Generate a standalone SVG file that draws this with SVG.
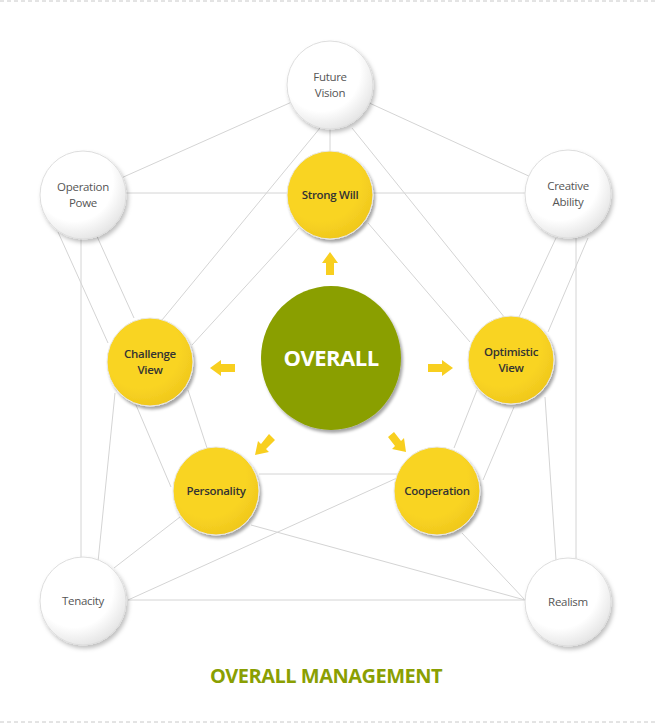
<svg xmlns="http://www.w3.org/2000/svg" width="655" height="724" viewBox="0 0 655 724">
<style>
.l{stroke:#d4d4d4;stroke-width:1;fill:none}
.t{font-family:"Open Sans","Liberation Sans",sans-serif;font-size:11.5px;text-anchor:middle;letter-spacing:-0.3px}
.w{fill:#555;font-weight:500}
.y{fill:#333;font-weight:600}
.ar{fill:#f8cf1f}
</style>
<defs>
<radialGradient id="gw" cx="0.4" cy="0.35" r="0.75"><stop offset="0.6" stop-color="#fff"/><stop offset="1" stop-color="#dcdcdc"/></radialGradient>
<radialGradient id="gy" cx="0.4" cy="0.35" r="0.75"><stop offset="0.6" stop-color="#f9d423"/><stop offset="1" stop-color="#ecc31a"/></radialGradient>
<filter id="sh" x="-20%" y="-20%" width="150%" height="150%"><feDropShadow dx="2" dy="3" stdDeviation="1.5" flood-color="#000" flood-opacity="0.35"/></filter>
<filter id="sh2" x="-20%" y="-20%" width="150%" height="150%"><feDropShadow dx="2" dy="3" stdDeviation="2" flood-color="#000" flood-opacity="0.25"/></filter>
</defs>
<line x1="0" y1="1" x2="655" y2="1" stroke="#c8c8c8" stroke-dasharray="4,3"/>
<line x1="0" y1="722" x2="655" y2="722" stroke="#c8c8c8" stroke-dasharray="4,3"/>
<g id="connectors">
<line class="l" x1="330" y1="85" x2="83" y2="195"/>
<line class="l" x1="330" y1="85" x2="568" y2="194"/>
<line class="l" x1="330" y1="85" x2="330" y2="195"/>
<line class="l" x1="320" y1="128" x2="162" y2="320"/>
<line class="l" x1="352" y1="128" x2="505" y2="318"/>
<line class="l" x1="83" y1="193" x2="568" y2="193"/>
<line class="l" x1="58" y1="232" x2="108" y2="343"/>
<line class="l" x1="95" y1="232" x2="134" y2="318"/>
<line class="l" x1="81" y1="232" x2="81" y2="560"/>
<line class="l" x1="98" y1="562" x2="115" y2="393"/>
<line class="l" x1="136" y1="405" x2="171" y2="487"/>
<line class="l" x1="188" y1="390" x2="207" y2="448"/>
<line class="l" x1="192" y1="345" x2="299" y2="228"/>
<line class="l" x1="368" y1="223" x2="470" y2="342"/>
<line class="l" x1="556" y1="238" x2="519" y2="317"/>
<line class="l" x1="588" y1="238" x2="548" y2="332"/>
<line class="l" x1="576" y1="238" x2="576" y2="560"/>
<line class="l" x1="545" y1="397" x2="556" y2="560"/>
<line class="l" x1="477" y1="390" x2="454" y2="448"/>
<line class="l" x1="514" y1="407" x2="483" y2="480"/>
<line class="l" x1="259" y1="474" x2="397" y2="474"/>
<line class="l" x1="180" y1="517" x2="114" y2="568"/>
<line class="l" x1="397" y1="478" x2="128" y2="600"/>
<line class="l" x1="251" y1="525" x2="525" y2="600"/>
<line class="l" x1="462" y1="533" x2="525" y2="600"/>
<line class="l" x1="128" y1="600" x2="525" y2="600"/>
</g>
<g id="arrows" class="ar">
<polygon points="330,252 338,263 334,263 334,275 326,275 326,263 322,263"/>
<polygon points="210,368 221,360 221,364 235,364 235,372 221,372 221,376"/>
<polygon points="453,368 442,360 442,364 428,364 428,372 442,372 442,376"/>
<polygon points="255,455 258,441 261,444 269,434 275,440 266,449 269,452"/>
<polygon points="406,452 392,449 395,446 388,437 394,432 401,441 404,438"/>
</g>
<g id="future-vision"><ellipse cx="330" cy="85" rx="43" ry="44" fill="url(#gw)" stroke="#ddd" filter="url(#sh2)"/><text class="t w" x="330" y="81">Future</text><text class="t w" x="330" y="97">Vision</text></g>
<g id="operation-powe"><ellipse cx="83" cy="195" rx="43" ry="44" fill="url(#gw)" stroke="#ddd" filter="url(#sh2)"/><text class="t w" x="83" y="191">Operation</text><text class="t w" x="83" y="207">Powe</text></g>
<g id="creative-ability"><ellipse cx="568" cy="194" rx="43" ry="44" fill="url(#gw)" stroke="#ddd" filter="url(#sh2)"/><text class="t w" x="568" y="190">Creative</text><text class="t w" x="568" y="206">Ability</text></g>
<g id="tenacity"><ellipse cx="83" cy="601" rx="43" ry="44" fill="url(#gw)" stroke="#ddd" filter="url(#sh2)"/><text class="t w" x="83" y="605">Tenacity</text></g>
<g id="realism"><ellipse cx="568" cy="602" rx="43" ry="44" fill="url(#gw)" stroke="#ddd" filter="url(#sh2)"/><text class="t w" x="568" y="606">Realism</text></g>
<g id="strong-will"><ellipse cx="330" cy="195" rx="43" ry="44" fill="url(#gy)" stroke="#e8e8e8" filter="url(#sh)"/><text class="t y" x="330" y="199">Strong Will</text></g>
<g id="challenge-view"><ellipse cx="150" cy="362" rx="43" ry="44" fill="url(#gy)" stroke="#e8e8e8" filter="url(#sh)"/><text class="t y" x="150" y="358">Challenge</text><text class="t y" x="150" y="374">View</text></g>
<g id="optimistic-view"><ellipse cx="511" cy="360" rx="43" ry="44" fill="url(#gy)" stroke="#e8e8e8" filter="url(#sh)"/><text class="t y" x="511" y="356">Optimistic</text><text class="t y" x="511" y="372">View</text></g>
<g id="personality"><ellipse cx="216" cy="491" rx="43" ry="44" fill="url(#gy)" stroke="#e8e8e8" filter="url(#sh)"/><text class="t y" x="216" y="495">Personality</text></g>
<g id="cooperation"><ellipse cx="437" cy="491" rx="43" ry="44" fill="url(#gy)" stroke="#e8e8e8" filter="url(#sh)"/><text class="t y" x="437" y="495">Cooperation</text></g>
<g id="overall"><ellipse cx="331" cy="358" rx="70" ry="72" fill="#8a9f02" filter="url(#sh)"/><text x="331" y="366" text-anchor="middle" font-family="'Open Sans','Liberation Sans',sans-serif" font-size="22" font-weight="700" fill="#fff" letter-spacing="-0.5">OVERALL</text></g>
<text x="326" y="683" text-anchor="middle" font-family="'Open Sans','Liberation Sans',sans-serif" font-size="20" font-weight="700" fill="#8a9f02" letter-spacing="-0.5">OVERALL MANAGEMENT</text>
</svg>
